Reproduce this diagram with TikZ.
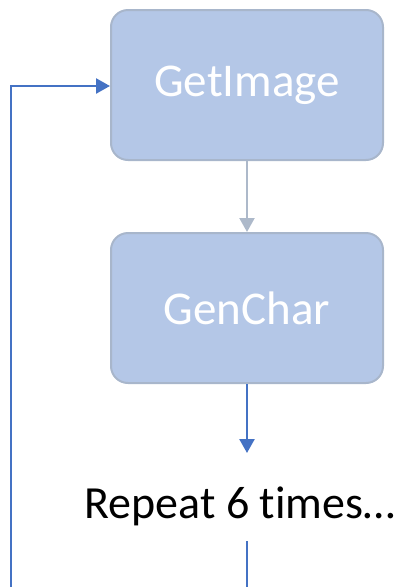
\documentclass[tikz,border=0pt]{standalone}
\usepackage{fontspec}
\setmainfont{Carlito}[Ligatures={NoCommon,NoRare,NoDiscretionary}]
\usetikzlibrary{arrows.meta}
\definecolor{boxfill}{HTML}{B4C7E7}
\definecolor{boxline}{HTML}{A8B6CB}
\definecolor{greyarrow}{HTML}{ADB9CA}
\definecolor{bluearrow}{HTML}{4472C4}
\tikzset{
  procbox/.style={draw=boxline, line width=2pt, fill=boxfill, rounded corners=17pt,
    minimum width=272pt, minimum height=150pt, inner sep=0pt, text=white,
    font=\fontsize{47}{56}\selectfont},
  greyconn/.style={draw=greyarrow, line width=2.2pt, -{Triangle[length=14pt,width=15pt]}},
  blueconn/.style={draw=bluearrow, line width=2.5pt, -{Triangle[length=14pt,width=15pt]}},
  blueline/.style={draw=bluearrow, line width=2.5pt},
}
\begin{document}
\begin{tikzpicture}[x=1pt,y=-1pt]
\useasboundingbox (0,0) rectangle (405,587);
\node[procbox] (get) at (247,85) {GetImage};
\node[procbox] (gen) at (247,308) {GenChar};
\node[inner sep=0pt, font=\fontsize{46}{55}\selectfont, anchor=base] (rep) at (240,518) {Repeat 6 times…};
\coordinate (arrowend) at (247,453);
\coordinate (linestart) at (247,541);
\coordinate (bottommid) at (247,587);
\coordinate (bottomleft) at (11,587);
\coordinate (corner) at (11,86);
\draw[greyconn] (get.south) -- (gen.north);
\draw[blueconn] (gen.south) -- (arrowend);
\draw[blueline] (linestart) -- (bottommid);
\draw[blueconn] (bottomleft) -- (corner) -- (corner -| get.west);
\end{tikzpicture}
\end{document}
